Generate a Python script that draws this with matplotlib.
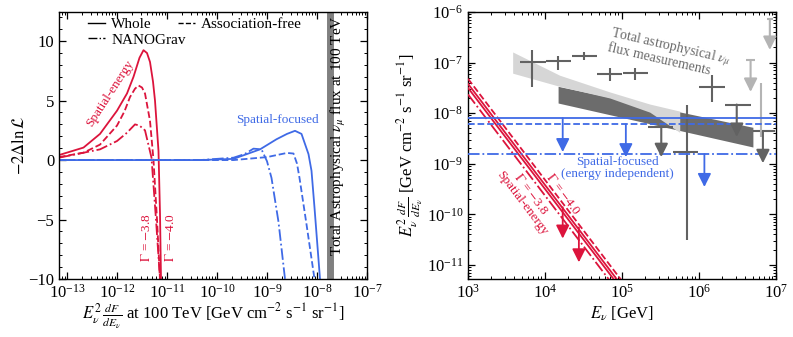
import numpy as np
import matplotlib
matplotlib.use("Agg")
import matplotlib.pyplot as plt
from matplotlib.lines import Line2D
from matplotlib.ticker import LogLocator, MultipleLocator, NullFormatter

# ---------------- data (left panel: log10 flux at 100 TeV, -2 Delta lnL) -------------
red_whole_logF = [-13.16, -12.67, -12.34, -12.0, -11.80, -11.67, -11.55, -11.47, -11.40, -11.34, -11.28, -11.24, -11.17, -11.14, -11.12]
red_whole_TS = [0.42, 1.05, 2.2, 4.15, 5.6, 7.0, 8.6, 9.24, 9.0, 8.25, 6.6, 5.0, 0.76, -4.5, -10]
red_af_logF = [-13.16, -12.67, -12.34, -12.0, -11.85, -11.74, -11.64, -11.57, -11.50, -11.44, -11.34, -11.27, -11.20, -11.14]
red_af_TS = [0.25, 0.62, 1.3, 2.9, 4.1, 5.3, 6.0, 6.27, 6.1, 5.6, 3.3, 0.0, -5.0, -10]
red_ng_logF = [-13.16, -12.34, -12.0, -11.80, -11.64, -11.55, -11.44, -11.31, -11.22, -11.14]
red_ng_TS = [0.2, 0.9, 1.6, 2.3, 3.0, 2.9, 2.5, 0.2, -5.0, -10]

blue_whole_logF = [-13.16, -10.34, -9.67, -9.14, -8.81, -8.60, -8.44, -8.31, -8.17, -8.11, -8.05, -7.94]
blue_whole_TS = [0.0, 0.0, 0.1, 0.9, 1.75, 2.2, 2.46, 2.2, 0.5, -0.9, -4.0, -10]
blue_af_logF = [-13.16, -9.67, -9.0, -8.60, -8.47, -8.40, -8.35, -8.21, -8.05]
blue_af_TS = [0.0, 0.0, 0.25, 0.6, 0.55, -0.3, -1.5, -5.4, -10]
blue_ng_logF = [-13.16, -10.34, -9.67, -9.45, -9.27, -9.11, -9.00, -8.91, -8.77, -8.64]
blue_ng_TS = [0.0, 0.0, 0.2, 0.5, 0.96, 0.9, -0.1, -1.5, -5.2, -10]

total_flux_100TeV = 1.8e-8

# ---------------- data (right panel) ----------------
red_norm_log = [-11.63, -11.50, -11.42, -11.32]
red_index = [-4.0, -4.0, -4.0, -4.0]
red_styles = ["-.", "-", "-", "--"]
red_ul_logE = [4.23, 4.44]
red_ul_top = [-9.86, -10.26]
red_ul_tip = [-10.48, -10.95]

blue_level_log = [-8.10, -8.22, -8.81]
blue_styles = ["-", "--", "-."]
blue_ul_logE = [4.23, 5.05, 6.07]
blue_ul_tip = [-8.77, -8.87, -9.46]

dk_logE = [3.83, 4.17, 4.51, 4.84, 5.17, 6.17, 5.84]
dk_logE_lo = [3.68, 4.01, 4.35, 4.68, 5.01, 6.00, 5.66]
dk_logE_hi = [4.01, 4.34, 4.67, 5.00, 5.34, 6.34, 5.99]
dk_logF = [-6.99, -6.97, -6.87, -7.23, -7.21, -7.49, -8.77]
dk_logF_lo = [-7.49, -7.15, -6.95, -7.37, -7.35, -7.78, -10.51]
dk_logF_hi = [-6.75, -6.87, -6.79, -7.11, -7.11, -7.25, -7.84]
dk_ul_logE = [5.51, 6.49, 6.83]
dk_ul_logE_lo = [5.34, 6.34, 6.70]
dk_ul_logE_hi = [5.66, 6.67, 6.99]
dk_ul_cap = [-8.27, -7.83, -8.36]
dk_ul_tip = [-8.87, -8.47, -8.99]
lt_ul_logE = [6.67, 6.92]
lt_ul_logE_lo = [6.61, 6.88]
lt_ul_logE_hi = [6.73, 6.96]
lt_ul_cap = [-6.95, -6.14]
lt_ul_tip = [-7.58, -6.75]
lt_err_logE = [6.80]
lt_err_lo = [-8.47]
lt_err_hi = [-7.41]
light_band_logE = [3.58, 4.19, 4.84, 5.36, 5.75]
light_band_up = [-6.79, -7.25, -7.58, -7.82, -7.96]
light_band_lo = [-7.21, -7.47, -7.70, -7.98, -8.38]
dark_band_logE = [4.17, 6.70]
dark_band_up = [-7.47, -8.28]
dark_band_lo = [-7.80, -8.67]

# ---------------- style ----------------
plt.rcParams["font.family"] = ["Liberation Serif", "DejaVu Serif"]
plt.rcParams["mathtext.fontset"] = "stix"
RED = "#DC143C"
BLUE = "#3F6AE6"
DGREY = "#626262"
LGREY = "#b4b4b4"

fig = plt.figure(figsize=(7.93, 3.37), dpi=100)
axL = fig.add_axes([59 / 793, 58 / 337, 308 / 793, 267 / 337])
axR = fig.add_axes([468 / 793, 58 / 337, 308 / 793, 267 / 337])

p = lambda a: 10 ** np.asarray(a, dtype=float)

# ---------------- left ----------------
axL.set_xscale("log")
for xs, ys, ls in [(red_whole_logF, red_whole_TS, "-"), (red_af_logF, red_af_TS, "--"), (red_ng_logF, red_ng_TS, "-.")]:
    axL.plot(p(xs), ys, ls=ls, color=RED, lw=1.3)
for xs, ys, ls in [(blue_whole_logF, blue_whole_TS, "-"), (blue_af_logF, blue_af_TS, "--"), (blue_ng_logF, blue_ng_TS, "-.")]:
    axL.plot(p(xs), ys, ls=ls, color=BLUE, lw=1.3)
axL.axvline(total_flux_100TeV, color="#808080", lw=5)
axL.set_xlim(10 ** -13.16, 1e-7)
axL.set_ylim(-10, 12.45)

axL.text(10 ** -7.56, 12.2, r"Total Astrophysical $\nu_\mu$ flux at 100 TeV", rotation=90,
         ha="center", va="top", fontsize=11)
axL.text(10 ** -12.14, 5.6, "Spatial-energy", rotation=57, color=RED, ha="center", va="center", fontsize=9.5)
axL.text(10 ** -8.8, 3.4, "Spatial-focused", color=BLUE, ha="center", va="center", fontsize=9.5)
axL.text(10 ** -11.42, -6.5, r"$\Gamma$ = $-$3.8", rotation=90, color=RED, ha="center", va="center", fontsize=9.5)
axL.text(10 ** -10.94, -6.5, r"$\Gamma$ = $-$4.0", rotation=90, color=RED, ha="center", va="center", fontsize=9.5)

leg_kw = dict(frameon=False, fontsize=11, handlelength=1.1, handletextpad=0.4, borderpad=0.0,
              borderaxespad=0.0, labelspacing=0.0)
h_whole = Line2D([], [], color="k", ls="-", lw=1.0)
h_af = Line2D([], [], color="k", ls="--", lw=1.0)
h_ng = Line2D([], [], color="k", ls="-.", lw=1.0)
leg1 = axL.legend([h_whole, h_af], ["Whole", "Association-free"], ncol=2, loc="upper left",
                  bbox_to_anchor=(0.095, 0.98), columnspacing=1.7, **leg_kw)
axL.add_artist(leg1)
axL.legend([h_ng], ["NANOGrav"], loc="upper left", bbox_to_anchor=(0.095, 0.922), **leg_kw)

axL.yaxis.set_major_locator(MultipleLocator(5))
axL.yaxis.set_minor_locator(MultipleLocator(1))
axL.xaxis.set_major_locator(LogLocator(base=10, numticks=20))
axL.xaxis.set_minor_locator(LogLocator(base=10, subs=np.arange(2, 10), numticks=20))
axL.xaxis.set_minor_formatter(NullFormatter())
axL.set_ylabel(r"$-2\Delta\ln\mathcal{L}$", fontsize=12, labelpad=0)
axL.set_xlabel(r"$E_\nu^2\,\frac{dF}{dE_\nu}$ at 100 TeV [GeV cm$^{-2}$ s$^{-1}$ sr$^{-1}$]", fontsize=12, labelpad=0)

# ---------------- right ----------------
axR.set_xscale("log")
axR.set_yscale("log")
axR.fill_between(p(dark_band_logE), p(dark_band_lo), p(dark_band_up), color="#6c6c6c", lw=0, zorder=1)
axR.fill_between(p(light_band_logE), p(light_band_lo), p(light_band_up), color="#d6d6d6", lw=0, zorder=1.5)

E = np.logspace(3, 7, 60)
for n, g, ls in zip(red_norm_log, red_index, red_styles):
    axR.plot(E, 10 ** n * (E / 1e5) ** (2 + g), ls=ls, color=RED, lw=1.3, zorder=3)

for lvl, ls in zip(blue_level_log, blue_styles):
    axR.axhline(10 ** lvl, ls=ls, color=BLUE, lw=1.3, zorder=3)


def ul_arrow(ax, x, top, tip, color, lw=1.3):
    ax.annotate("", xy=(x, tip), xytext=(x, top),
                arrowprops=dict(arrowstyle="-|>,head_width=0.4,head_length=0.8", color=color, lw=lw,
                                shrinkA=0, shrinkB=0, mutation_scale=10), zorder=4)


for e, lvl, tip in zip(blue_ul_logE, blue_level_log, blue_ul_tip):
    ul_arrow(axR, 10 ** e, 10 ** lvl, 10 ** tip, BLUE)
for e, top, tip in zip(red_ul_logE, red_ul_top, red_ul_tip):
    ul_arrow(axR, 10 ** e, 10 ** top, 10 ** tip, RED)

x = p(dk_logE)
y = p(dk_logF)
axR.errorbar(x, y, xerr=[x - p(dk_logE_lo), p(dk_logE_hi) - x], yerr=[y - p(dk_logF_lo), p(dk_logF_hi) - y],
             fmt="none", ecolor=DGREY, elinewidth=1.5, capsize=0, zorder=2)
for e, lo, hi, cap, tip in zip(dk_ul_logE, dk_ul_logE_lo, dk_ul_logE_hi, dk_ul_cap, dk_ul_tip):
    axR.hlines(10 ** cap, 10 ** lo, 10 ** hi, color=DGREY, lw=1.5, zorder=2)
    ul_arrow(axR, 10 ** e, 10 ** cap, 10 ** tip, DGREY, lw=1.5)
for e, lo, hi, cap, tip in zip(lt_ul_logE, lt_ul_logE_lo, lt_ul_logE_hi, lt_ul_cap, lt_ul_tip):
    axR.hlines(10 ** cap, 10 ** lo, 10 ** hi, color=LGREY, lw=1.5, zorder=2)
    ul_arrow(axR, 10 ** e, 10 ** cap, 10 ** tip, LGREY, lw=1.5)
axR.vlines(p(lt_err_logE), p(lt_err_lo), p(lt_err_hi), color=LGREY, lw=1.5, zorder=2)

axR.set_xlim(1e3, 1e7)
axR.set_ylim(10 ** -11.28, 1e-6)

axR.text(10 ** 5.61, 10 ** -6.81, "Total astrophysical $\\nu_\\mu$\nflux measurements", rotation=-13,
         color="#6a6a6a", ha="center", va="center", fontsize=10, linespacing=0.9, multialignment="left")
axR.text(10 ** 4.94, 10 ** -9.09, "Spatial-focused\n(energy independent)", color=BLUE, ha="center",
         va="center", fontsize=9.5, linespacing=0.95)
axR.text(10 ** 3.70, 10 ** -9.78, "Spatial-energy", rotation=-53, color=RED, ha="center", va="center", fontsize=9.5)
axR.text(10 ** 3.82, 10 ** -9.60, r"$\Gamma$ = $-$3.8", rotation=-53, color=RED, ha="center", va="center", fontsize=9.5)
axR.text(10 ** 4.23, 10 ** -9.60, r"$\Gamma$ = $-$4.0", rotation=-53, color=RED, ha="center", va="center", fontsize=9.5)

axR.xaxis.set_major_locator(LogLocator(base=10, numticks=20))
axR.xaxis.set_minor_locator(LogLocator(base=10, subs=np.arange(2, 10), numticks=20))
axR.yaxis.set_major_locator(LogLocator(base=10, numticks=20))
axR.yaxis.set_minor_locator(LogLocator(base=10, subs=np.arange(2, 10), numticks=20))
axR.xaxis.set_minor_formatter(NullFormatter())
axR.yaxis.set_minor_formatter(NullFormatter())
axR.set_xlabel(r"$E_\nu$ [GeV]", fontsize=12, labelpad=2)
axR.set_ylabel(r"$E_\nu^2\,\frac{dF}{dE_\nu}$ [GeV cm$^{-2}$ s$^{-1}$ sr$^{-1}$]", fontsize=12, labelpad=1)

for ax in (axL, axR):
    ax.tick_params(which="both", direction="in", top=True, right=True, labelsize=12)
    ax.tick_params(which="major", length=5, width=0.9)
    ax.tick_params(which="minor", length=2.5, width=0.7)
    for s in ax.spines.values():
        s.set_linewidth(1.0)

fig.savefig("out.png", dpi=100)
